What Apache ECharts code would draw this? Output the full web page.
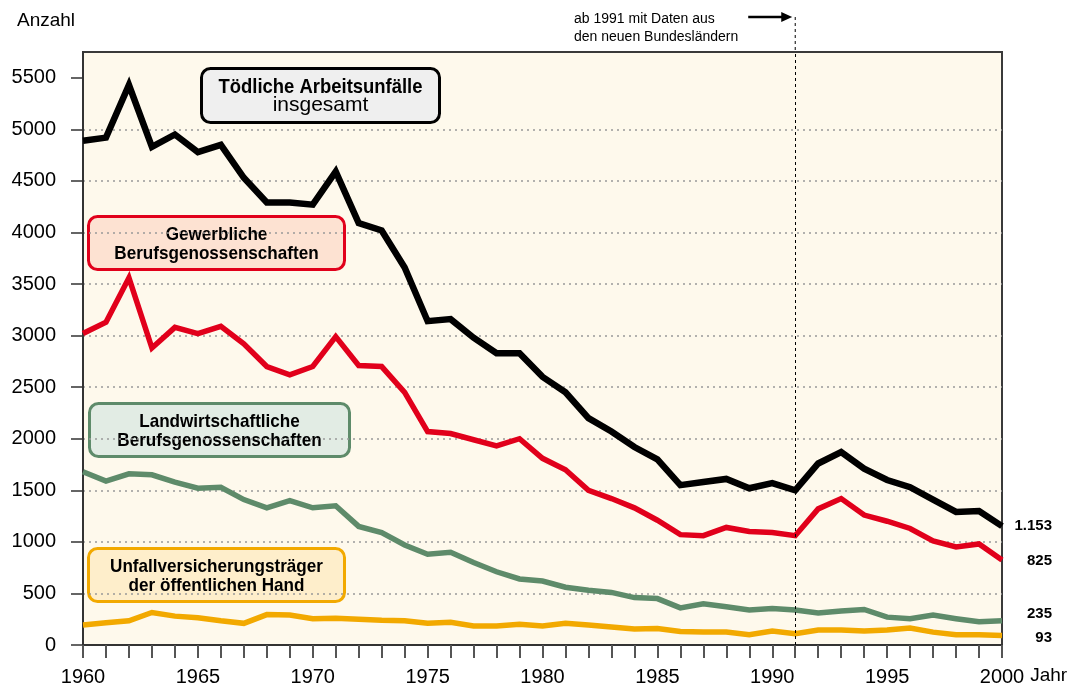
<!DOCTYPE html>
<html>
<head>
<meta charset="utf-8">
<script src="https://cdn.jsdelivr.net/npm/echarts@6/dist/echarts.min.js"></script>
<style>
  html, body { margin: 0; padding: 0; background: #fff; }
  #main { width: 1078px; height: 691px; }
</style>
</head>
<body>
<div id="main"></div>
<script>
const years = [];
for (let y = 1960; y <= 2000; y++) years.push(String(y));

// Tödliche Arbeitsunfälle insgesamt
const total = [4890, 4920, 5430, 4830, 4950, 4780, 4850, 4530, 4290, 4290, 4270, 4590, 4090, 4020,
  3660, 3140, 3160, 2980, 2830, 2830, 2600, 2450, 2200, 2070, 1920, 1800,
  1550, 1580, 1610, 1520, 1570, 1500, 1760, 1870, 1710, 1600, 1530, 1410, 1290, 1300, 1153];
// Gewerbliche Berufsgenossenschaften
const gewerblich = [3020, 3130, 3560, 2880, 3080, 3020, 3090, 2920, 2700, 2620, 2700, 2990, 2710, 2700,
  2450, 2070, 2050, 1990, 1930, 2000, 1810, 1700, 1500, 1420, 1330, 1210,
  1070, 1060, 1140, 1100, 1090, 1060, 1320, 1420, 1260, 1200, 1130, 1010, 950, 980, 825];
// Landwirtschaftliche Berufsgenossenschaften
const landwirtschaft = [1680, 1590, 1660, 1650, 1580, 1520, 1530, 1410, 1330, 1400, 1330, 1350, 1150, 1090,
  970, 880, 900, 800, 710, 640, 620, 560, 530, 510, 460, 450,
  360, 400, 370, 340, 355, 340, 310, 330, 345, 270, 255, 290, 255, 225, 235];
// Unfallversicherungsträger der öffentlichen Hand
const oeffentlich = [195, 215, 235, 315, 280, 265, 235, 210, 295, 290, 255, 260, 250, 240,
  235, 210, 220, 185, 185, 200, 185, 210, 195, 175, 155, 160,
  130, 125, 125, 100, 135, 110, 145, 145, 135, 145, 165, 125, 100, 100, 93];

const lineColors = ['#000000', '#e1001b', '#5e8b6a', '#f2a900'];
const yTicks = [0, 500, 1000, 1500, 2000, 2500, 3000, 3500, 4000, 4500, 5000, 5500];

const fmtDe = v => String(v).replace(/\B(?=(\d{3})+(?!\d))/g, '.');
const FONT = 'Liberation Sans, Arial, sans-serif';

function makeSeries(name, data, color, width, labelDy) {
  return {
    name: name,
    type: 'line',
    data: data,
    symbol: 'none',
    lineStyle: { color: color, width: width, join: 'miter' },
    itemStyle: { color: color },
    z: 3,
    endLabel: {
      show: true,
      distance: 0,
      align: 'right',
      offset: [50, labelDy],
      color: '#000',
      fontSize: 15,
      fontWeight: 'bold',
      fontFamily: FONT,
      formatter: p => fmtDe(p.value)
    }
  };
}

const chart = echarts.init(document.getElementById('main'));

const seriesList = [
  makeSeries('Tödliche Arbeitsunfälle insgesamt', total, lineColors[0], 6.5, 0),
  makeSeries('Gewerbliche Berufsgenossenschaften', gewerblich, lineColors[1], 5.5, 1),
  makeSeries('Landwirtschaftliche Berufsgenossenschaften', landwirtschaft, lineColors[2], 5.5, -7),
  makeSeries('Unfallversicherungsträger der öffentlichen Hand', oeffentlich, lineColors[3], 5.5, 2)
];
// Linie ab 1991
seriesList[0].markLine = {
  silent: true,
  symbol: 'none',
  label: { show: false },
  lineStyle: { color: '#000', type: [3, 3], width: 1 },
  data: [{ xAxis: '1991' }]
};

// Kästchen; Schrift leicht horizontal gestaucht wie im Original
function boxText(text, cx, cy, size, weight, sx) {
  return { type: 'text', x: cx, y: cy, scaleX: sx,
    style: { text: text, align: 'center', verticalAlign: 'middle', fill: '#000',
      fontSize: size, fontWeight: weight, fontFamily: FONT, lineHeight: 19 } };
}
function box(x, y, w, h, fill, stroke, texts) {
  return {
    type: 'group',
    left: x, top: y,
    z: 10,
    children: [
      { type: 'rect', shape: { x: 0, y: 0, width: w, height: h, r: 9 },
        style: { fill: fill, stroke: stroke, lineWidth: 3 } }
    ].concat(texts)
  };
}

const option = {
  animation: false,
  backgroundColor: '#ffffff',
  textStyle: { fontFamily: FONT },
  grid: {
    left: 83, right: 76, top: 52, bottom: 46,
    show: true,
    backgroundColor: '#fef9ec',
    borderColor: '#3a3a3a',
    borderWidth: 2
  },
  xAxis: {
    type: 'category',
    data: years,
    boundaryGap: false,
    name: 'Jahr',
    nameLocation: 'end',
    nameGap: 12,
    nameTextStyle: { fontSize: 19, color: '#000', verticalAlign: 'top', padding: [21, 0, 0, 0] },
    axisLine: { lineStyle: { color: '#333', width: 2 } },
    axisTick: { show: true, interval: 0, length: 13, lineStyle: { color: '#555', width: 2 } },
    axisLabel: { interval: 4, fontSize: 20, color: '#000', margin: 22 },
    splitLine: { show: false }
  },
  yAxis: {
    type: 'value',
    min: 0,
    max: 5750,
    interval: 500,
    name: 'Anzahl',
    nameLocation: 'end',
    nameGap: 22,
    nameTextStyle: { fontSize: 19, color: '#000', align: 'left', padding: [0, 0, 0, -66] },
    axisLine: { show: true, lineStyle: { color: '#333', width: 2 } },
    axisTick: { show: true, length: 12, customValues: yTicks, lineStyle: { color: '#333', width: 1.5 } },
    axisLabel: { fontSize: 20, color: '#000', margin: 27, customValues: yTicks,
      formatter: v => String(v) },
    splitLine: { show: true, showMinLine: false, showMaxLine: false,
      lineStyle: { color: '#999', type: [2, 4], width: 1.5 } }
  },
  series: seriesList,
  graphic: [
    box(200, 67, 238, 54, '#efefef', '#000', [
      boxText('Tödliche Arbeitsunfälle', 119, 19, 20.5, 'bold', 0.9),
      boxText('insgesamt', 119, 37, 21, 'normal', 1)
    ]),
    box(87, 215, 256, 53, '#fde2d2', '#e1001b', [
      boxText('Gewerbliche\nBerufsgenossenschaften', 128, 27.5, 19, 'bold', 0.9)
    ]),
    box(88, 402, 260, 53, '#e2ece4', '#5e8b6a', [
      boxText('Landwirtschaftliche\nBerufsgenossenschaften', 130, 27.5, 19, 'bold', 0.9)
    ]),
    box(87, 547, 256, 53, '#feeecb', '#f2a900', [
      boxText('Unfallversicherungsträger\nder öffentlichen Hand', 128, 27.5, 19, 'bold', 0.9)
    ])
  ]
};

chart.setOption(option);

// Hinweis oberhalb der Zeichenfläche, an der 1991-Linie ausgerichtet
const x1991 = chart.convertToPixel({ xAxisIndex: 0 }, '1991');
const yTop = chart.convertToPixel({ yAxisIndex: 0 }, 5750);
chart.setOption({
  graphic: option.graphic.concat([
    { type: 'line', shape: { x1: x1991, y1: 17, x2: x1991, y2: yTop },
      style: { stroke: '#000', lineWidth: 1, lineDash: [3, 3] }, z: 5 },
    { type: 'line', shape: { x1: x1991 - 47, y1: 17, x2: x1991 - 8, y2: 17 },
      style: { stroke: '#000', lineWidth: 2.5 }, z: 5 },
    { type: 'polygon', shape: { points: [[x1991 - 3, 17], [x1991 - 14, 12], [x1991 - 14, 22]] },
      style: { fill: '#000' }, z: 5 },
    { type: 'text', x: 574, y: 10,
      style: { text: 'ab 1991 mit Daten aus\nden neuen Bundesländern', fill: '#000',
        font: '14px "Liberation Sans", Arial, sans-serif', lineHeight: 18, verticalAlign: 'top' } }
  ])
});
</script>
</body>
</html>
